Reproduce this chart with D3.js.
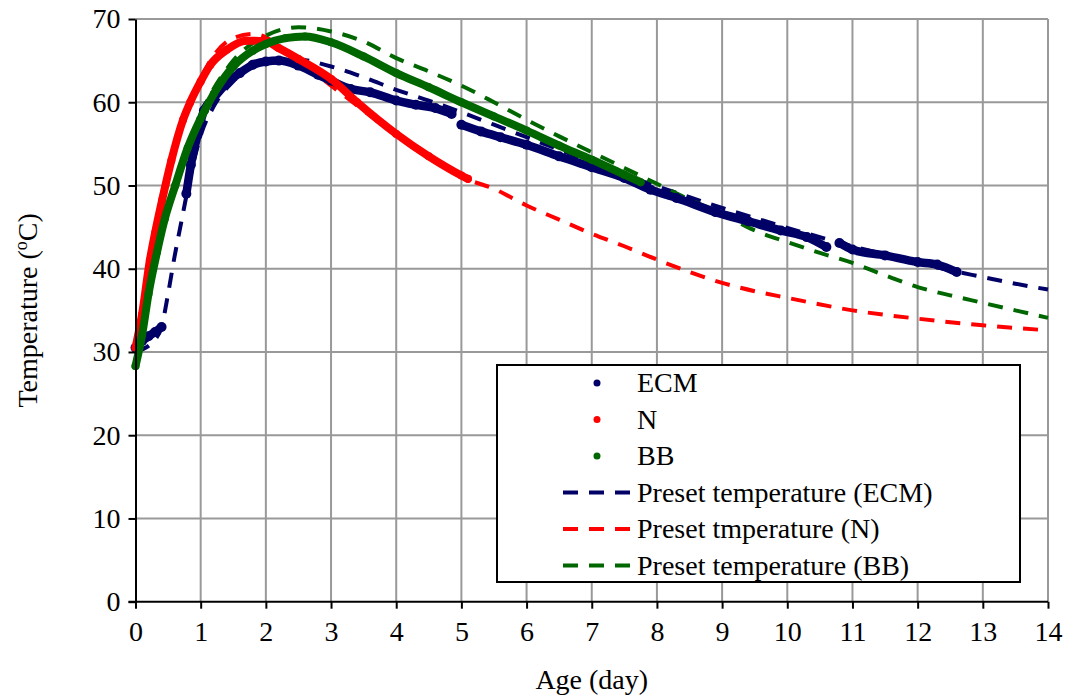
<!DOCTYPE html>
<html>
  <head>
    <meta charset="utf-8" />
    <title>Temperature vs age</title>
  </head>

  <style>
    body {
      background: #fff;
      margin: 0px;
      padding: 0px;
      overflow: hidden;
    }

    text {
      font-family: "Liberation Serif", "Times New Roman", serif;
      font-size: 28px;
      fill: #000;
    }

    .grid line {
      stroke: #999;
      stroke-width: 2;
    }

    .axis path, .axis line {
      stroke: #000;
      stroke-width: 2;
    }
  </style>

  <body>
    <script src="https://cdnjs.cloudflare.com/ajax/libs/d3/7.8.5/d3.min.js"></script>

    <script>

      // ---- data: [age (day), temperature (oC)] ----
      // measured, null marks a gap in the record
      var ecmMeasured = [
        [0, 30.5], [0.1, 31.3], [0.2, 31.9], [0.3, 32.4], [0.4, 33.0], null,
        [0.78, 49.0], [0.85, 52.5], [0.95, 56.0], [1.05, 59.0], [1.2, 60.5], [1.4, 62.3],
        [1.6, 63.5], [1.8, 64.5], [2.0, 64.9], [2.2, 65.0], [2.5, 64.4], [2.8, 63.3],
        [3.0, 62.6], [3.3, 61.6], [3.6, 61.2], [4.0, 60.2], [4.3, 59.7], [4.6, 59.3],
        [4.85, 58.6], null,
        [5.0, 57.3], [5.3, 56.5], [5.6, 55.8], [6.0, 54.9], [6.5, 53.5], [7.0, 52.2],
        [7.5, 50.9], [7.9, 49.5], [8.3, 48.5], [8.9, 46.8], [9.4, 45.7], [9.9, 44.6],
        [10.3, 43.8], [10.6, 42.6], null,
        [10.8, 43.1], [11.0, 42.3], [11.5, 41.6], [12.0, 40.8], [12.3, 40.5], [12.6, 39.6]
      ];

      var nMeasured = [
        [0, 30.5], [0.1, 34.5], [0.22, 41.0], [0.3, 44.3], [0.41, 48.3], [0.55, 53.0],
        [0.73, 57.9], [0.84, 60.0], [1.0, 62.5], [1.15, 64.5], [1.4, 66.3], [1.7, 67.4],
        [2.0, 67.3], [2.2, 66.5], [2.5, 65.2], [3.0, 62.8], [3.4, 60.0], [4.0, 56.2],
        [4.5, 53.5], [5.0, 51.2], [5.1, 50.8]
      ];

      var bbMeasured = [
        [0, 28.3], [0.1, 32.0], [0.2, 37.0], [0.33, 42.0], [0.45, 46.0], [0.61, 50.0],
        [0.8, 54.5], [0.99, 57.9], [1.2, 61.0], [1.5, 64.3], [1.8, 66.2], [2.0, 67.0],
        [2.3, 67.7], [2.6, 67.9], [3.0, 67.2], [3.5, 65.5], [4.0, 63.5], [4.5, 61.8],
        [5.0, 60.0], [5.5, 58.3], [6.0, 56.6], [6.5, 54.8], [7.0, 53.1], [7.5, 51.3],
        [7.75, 50.4]
      ];

      // preset (dashed)
      var ecmPreset = [
        [0, 30.0], [0.3, 31.5], [0.4, 33.0], [0.5, 37.0], [0.6, 41.5], [0.7, 45.5],
        [0.8, 49.5], [1.0, 56.0], [1.2, 59.5], [1.5, 62.5], [2.0, 64.8], [2.5, 65.1],
        [3.0, 64.3], [3.5, 63.0], [4.0, 61.5], [4.5, 60.2], [5.0, 58.8], [5.5, 57.3],
        [6.0, 55.8], [6.5, 54.3], [7.0, 52.8], [7.5, 51.3], [8.0, 49.9], [8.5, 48.6],
        [9.0, 47.3], [9.5, 46.1], [10.0, 44.9], [10.5, 43.8], [11.0, 42.7], [11.5, 41.7],
        [12.0, 40.7], [12.5, 39.8], [13.0, 39.0], [13.5, 38.2], [14.0, 37.5]
      ];

      var nPreset = [
        [0, 30.0], [0.3, 45.0], [0.5, 52.0], [0.7, 57.3], [1.0, 62.8], [1.2, 65.6],
        [1.5, 67.7], [1.8, 68.2], [2.0, 67.8], [2.2, 66.8], [2.5, 65.0], [3.0, 62.0],
        [3.5, 59.0], [4.0, 56.0], [4.5, 53.3], [5.0, 51.0], [5.5, 49.6], [6.0, 47.6],
        [6.5, 45.9], [7.0, 44.2], [7.5, 42.7], [8.0, 41.1], [8.5, 39.6], [9.0, 38.3],
        [9.5, 37.3], [10.0, 36.5], [11.0, 35.0], [12.0, 34.0], [13.0, 33.2], [14.0, 32.6]
      ];

      var bbPreset = [
        [0, 28.5], [0.5, 47.0], [1.0, 58.5], [1.5, 65.0], [2.0, 68.0], [2.5, 69.0],
        [3.0, 68.5], [3.5, 67.3], [4.0, 65.3], [4.5, 63.7], [5.0, 62.0], [5.5, 60.0],
        [6.0, 57.9], [6.5, 55.9], [7.0, 54.0], [7.5, 52.1], [8.0, 50.2], [8.5, 48.3],
        [9.0, 46.6], [9.5, 44.6], [10.0, 43.2], [10.5, 41.9], [11.0, 40.7], [11.5, 39.2],
        [12.0, 37.8], [12.5, 36.8], [13.0, 35.9], [13.5, 35.0], [14.0, 34.1]
      ];

      var xTicks = d3.range(0, 15, 1);
      var yTicks = d3.range(0, 80, 10);

      var seriesNames = ["ECM", "N", "BB"];
      var presetNames = ["Preset temperature (ECM)", "Preset tmperature (N)", "Preset temperature (BB)"];
      var colors = ["#000066", "#ff0000", "#006600"];

      // ---- drawing ----
      var W = 1065, H = 699;
      var x0 = 135.5, x1 = 1048, y0 = 601.7, y1 = 19;

      var svg = d3.select("body").append("svg")
        .attr("width", W)
        .attr("height", H);

      var xScale = d3.scaleLinear().domain([0, 14]).range([x0, x1]);
      var yScale = d3.scaleLinear().domain([0, 70]).range([y0, y1]);

      // grid
      var grid = svg.append("g").attr("class", "grid");
      grid.selectAll(".gx")
          .data(xTicks.filter(function(d) { return d > 0; }))
        .enter().append("line")
          .attr("x1", function(d) { return xScale(d); })
          .attr("x2", function(d) { return xScale(d); })
          .attr("y1", y0)
          .attr("y2", y1);
      grid.selectAll(".gy")
          .data(yTicks.filter(function(d) { return d > 0; }))
        .enter().append("line")
          .attr("x1", x0)
          .attr("x2", x1)
          .attr("y1", function(d) { return yScale(d); })
          .attr("y2", function(d) { return yScale(d); });

      var line = d3.line()
        .defined(function(d) { return d !== null; })
        .curve(d3.curveMonotoneX)
        .x(function(d) { return xScale(d[0]); })
        .y(function(d) { return yScale(d[1]); });

      // dashed presets go underneath
      [ecmPreset, nPreset, bbPreset].forEach(function(data, i) {
        svg.append("path")
          .datum(data)
          .attr("d", line)
          .style("fill", "none")
          .style("stroke", colors[i])
          .style("stroke-width", 4)
          .style("stroke-dasharray", "15,11");
      });

      // measured: dense dots drawn as a thick band
      [ecmMeasured, nMeasured, bbMeasured].forEach(function(data, i) {
        var g = svg.append("g");
        g.append("path")
          .datum(data)
          .attr("d", line)
          .style("fill", "none")
          .style("stroke", colors[i])
          .style("stroke-width", i == 0 ? 8.5 : 8)
          .style("stroke-linecap", "round")
          .style("stroke-linejoin", "round");
        g.selectAll("circle")
            .data(data.filter(function(d) { return d !== null; }))
          .enter().append("circle")
            .attr("cx", function(d) { return xScale(d[0]); })
            .attr("cy", function(d) { return yScale(d[1]); })
            .attr("r", i == 0 ? 5 : 4)
            .style("fill", colors[i]);
      });

      // axes
      var xAxis = d3.axisBottom(xScale).tickValues(xTicks).tickSize(7).tickPadding(12).tickSizeOuter(0);
      var yAxis = d3.axisLeft(yScale).tickValues(yTicks).tickSize(7).tickPadding(8).tickSizeOuter(0);

      var gx = svg.append("g")
        .attr("class", "axis")
        .attr("transform", "translate(0," + y0 + ")")
        .call(xAxis);
      gx.select(".domain").attr("d", "M" + (x0 - 7) + ",0H" + x1);

      var gy = svg.append("g")
        .attr("class", "axis")
        .attr("transform", "translate(" + x0 + ",0)")
        .call(yAxis);

      svg.selectAll(".axis text")
        .style("font-family", "'Liberation Serif', 'Times New Roman', serif")
        .style("font-size", "28px")
        .style("fill", "#000");

      // axis titles
      svg.append("text")
        .attr("x", (x0 + x1) / 2)
        .attr("y", 689)
        .attr("text-anchor", "middle")
        .text("Age (day)");

      var yt = svg.append("text")
        .attr("transform", "translate(37," + ((y0 + y1) / 2) + ") rotate(-90)")
        .attr("text-anchor", "middle");
      yt.append("tspan").text("Temperature (");
      yt.append("tspan").attr("dy", -10).style("font-size", "18px").text("o");
      yt.append("tspan").attr("dy", 10).text("C)");

      // legend
      var lg = svg.append("g");
      lg.append("rect")
        .attr("x", 497)
        .attr("y", 365)
        .attr("width", 523)
        .attr("height", 217)
        .style("fill", "#fff")
        .style("stroke", "#000")
        .style("stroke-width", 2);

      var rowY = function(i) { return 383 + i * 36.5; };

      seriesNames.forEach(function(name, i) {
        lg.append("circle")
          .attr("cx", 597)
          .attr("cy", rowY(i))
          .attr("r", 3.5)
          .style("fill", colors[i]);
        lg.append("text")
          .attr("x", 637)
          .attr("y", rowY(i) + 9)
          .text(name);
      });

      presetNames.forEach(function(name, i) {
        lg.append("line")
          .attr("x1", 563)
          .attr("x2", 630)
          .attr("y1", rowY(i + 3))
          .attr("y2", rowY(i + 3))
          .style("stroke", colors[i])
          .style("stroke-width", 4)
          .style("stroke-dasharray", "15,11");
        lg.append("text")
          .attr("x", 637)
          .attr("y", rowY(i + 3) + 9)
          .text(name);
      });

    </script>
  </body>
</html>
